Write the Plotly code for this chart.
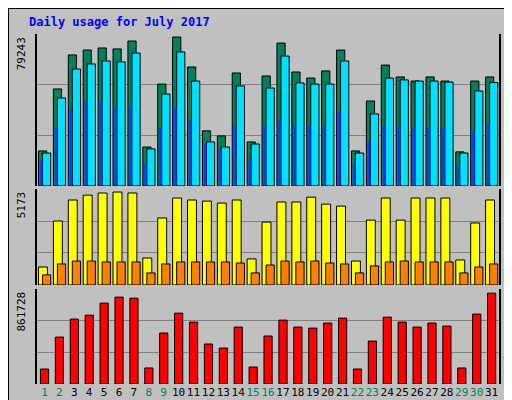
import plotly.graph_objects as go

days = list(range(1, 32))
hits = [18600, 51600, 69700, 72300, 73400, 72900, 77100, 20700, 54200, 79243, 63300, 29300, 26600, 60100, 23400, 58500,
        76000, 60600, 57400, 61200, 72300, 18600, 45200, 64300, 58000, 55800, 58000, 55800, 18100, 55800, 58000]
files = [17500, 46800, 62200, 64900, 66500, 66000, 70700, 19700, 48900, 71300, 55800, 23400, 20700, 53200, 22300, 52100,
         69100, 54800, 54200, 54200, 66500, 17500, 38300, 57400, 56400, 55800, 55800, 55300, 17500, 50500, 55000]
pages = [13300, 30900, 41000, 44700, 44700, 42000, 42600, 11700, 31400, 41500, 35100, 22300, 19700, 31900, 13300, 32500,
         34600, 31900, 31900, 31900, 39900, 11700, 23900, 31900, 30900, 30900, 30900, 30900, 10600, 29300, 33000]
visits = [1000, 3560, 4730, 5000, 5120, 5173, 5120, 1500, 3730, 4840, 4730, 4670, 4560, 4730, 1450, 3500,
          4620, 4620, 4890, 4500, 4390, 1330, 3610, 4840, 3610, 4840, 4840, 4840, 1390, 3450, 4730]
sites = [560, 1170, 1330, 1330, 1280, 1280, 1280, 670, 1170, 1280, 1280, 1280, 1280, 1220, 670, 1110,
         1330, 1280, 1330, 1220, 1170, 670, 1060, 1280, 1330, 1280, 1280, 1280, 670, 1000, 1170]
kbytes = [142000, 445000, 616000, 653000, 767000, 824000, 814000, 152000, 483000, 672000, 587000, 379000, 341000, 540000,
          161000, 455000, 606000, 540000, 530000, 578000, 625000, 142000, 407000, 634000, 587000, 540000, 578000,
          549000, 152000, 663000, 861728]
weekend = {1, 2, 8, 9, 15, 16, 22, 23, 29, 30}

GREEN, CYAN, BLUE = "#00805c", "#00e0ff", "#0040ff"
YELLOW, ORANGE, RED = "#ffff00", "#ff8000", "#ff0000"
BG = "#c0c0c0"
MONO = "DejaVu Sans Mono"
line = dict(color="black", width=1)

fig = go.Figure()
fig.add_bar(x=days, y=hits, width=0.55, offset=-0.4, marker=dict(color=GREEN, line=line), yaxis="y")
fig.add_bar(x=days, y=files, width=0.55, offset=-0.13, marker=dict(color=CYAN, line=line), yaxis="y")
fig.add_bar(x=days, y=pages, width=0.16, offset=-0.3, marker=dict(color=BLUE, line=dict(width=0)), yaxis="y")
fig.add_bar(x=days, y=visits, width=0.6, offset=-0.4, marker=dict(color=YELLOW, line=line), yaxis="y2")
fig.add_bar(x=days, y=sites, width=0.55, offset=-0.13, marker=dict(color=ORANGE, line=line), yaxis="y2")
fig.add_bar(x=days, y=kbytes, width=0.55, offset=-0.27, marker=dict(color=RED, line=line), yaxis="y3")


def yax(vmax, scale, domain):
    r = vmax * scale
    return dict(domain=domain, range=[0, r], tickvals=[r / 3, 2 * r / 3], showticklabels=False,
                showgrid=True, gridcolor="#808080", gridwidth=1, zeroline=False,
                showline=True, linecolor="black", linewidth=2, mirror=True, ticks="", fixedrange=True)


ticktext = [f"<span style='color:{'#00805c' if d in weekend else 'black'}'>{d}</span>" for d in days]
fig.update_layout(
    width=512, height=400, barmode="overlay", showlegend=False,
    paper_bgcolor=BG, plot_bgcolor=BG,
    margin=dict(l=29, r=21, t=26, b=24),
    font=dict(family=MONO, size=11, color="black"),
    xaxis=dict(range=[0.5, 31.5], tickvals=days, ticktext=ticktext, ticks="", showgrid=False, tickangle=0,
               anchor="y3", tickfont=dict(size=11), fixedrange=True, automargin=False),
    yaxis=yax(max(hits), 152 / 149, [0.566, 1]),
    yaxis2=yax(max(visits), 96 / 93, [0.283, 0.557]),
    yaxis3=yax(max(kbytes), 95 / 91, [0, 0.271]),
    shapes=[dict(type="rect", xref="paper", yref="paper", x0=-29 / 462, x1=1 + 21 / 462, y0=-24 / 350,
                 y1=1 + 26 / 350, line=dict(color="black", width=2))],
)

ann = [
    dict(x=-10 / 462, y=1 + 12 / 350, text="<b>Daily usage for July 2017</b>", xanchor="left", yanchor="middle",
         font=dict(color="#0000ff", size=12)),
    dict(x=-16 / 462, y=0.995, text=f"{max(hits)}", textangle=-90, xanchor="center", yanchor="top"),
    dict(x=-16 / 462, y=0.555, text=f"{max(visits)}", textangle=-90, xanchor="center", yanchor="top"),
    dict(x=-16 / 462, y=0.27, text=f"{max(kbytes)}", textangle=-90, xanchor="center", yanchor="top"),
    dict(x=1 + 18 / 462, y=1, textangle=-90, xanchor="right", yanchor="top",
         text=f"<span style='color:{CYAN}'>Pages</span> / <span style='color:{BLUE}'>Files</span> / "
              f"<span style='color:{GREEN}'>Hits</span>"),
    dict(x=1 + 18 / 462, y=0.557, textangle=-90, xanchor="right", yanchor="top",
         text=f"<span style='color:{ORANGE}'>Sites</span> / <span style='color:{YELLOW}'>Visits</span>"),
    dict(x=1 + 18 / 462, y=0.0, textangle=-90, xanchor="right", yanchor="bottom",
         text=f"<span style='color:{RED}'>KB F</span> / <span style='color:{BLUE}'>KB In</span> / "
              f"<span style='color:{GREEN}'>KB Out</span>"),
]
for a in ann:
    a.update(xref="paper", yref="paper", showarrow=False)
    a.setdefault("font", dict(size=11))
    a["font"].setdefault("family", MONO)
fig.update_layout(annotations=ann)

fig.write_html("out.html")
